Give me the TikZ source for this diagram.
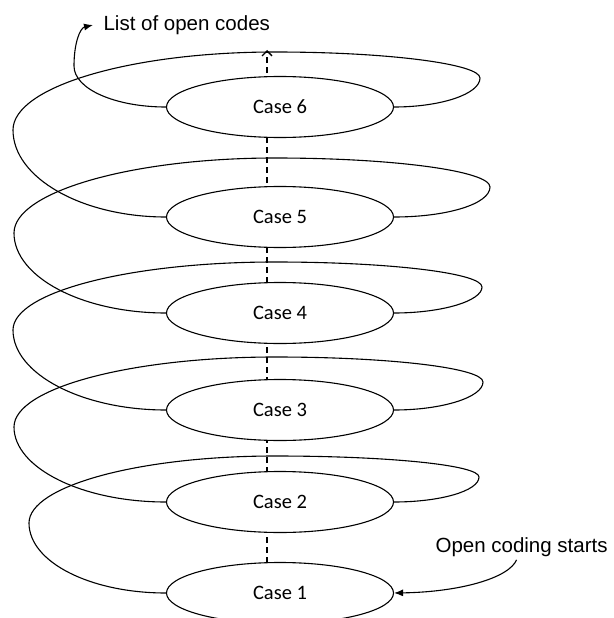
\documentclass[tikz,border=0pt]{standalone}
\usepackage{fontspec}
\setmainfont{Liberation Sans}
\newfontfamily\casefont{Carlito}
\usetikzlibrary{shapes.geometric,arrows.meta,backgrounds}
\begin{document}
\begin{tikzpicture}[x=1pt,y=-1pt,line width=1.1pt,
  casenode/.style={ellipse,draw=black,fill=white,minimum width=227pt,minimum height=61pt,inner sep=0pt,
    font=\casefont\fontsize{20.5}{24}\selectfont},
  spiral/.style={draw=black,line width=1.1pt},
  labeltext/.style={font=\fontsize{20.5}{24}\selectfont,inner sep=0pt},
  dashlink/.style={draw=black,line width=1.4pt,dash pattern=on 6pt off 4pt},
  tipfill/.style={-{Latex[length=9pt,width=7pt]}}]
\useasboundingbox (0,0) rectangle (613,618);

% case ellipses
\node[casenode] (c1) at (280,593) {Case 1};
\node[casenode] (c2) at (280,502) {Case 2};
\node[casenode] (c3) at (280,410) {Case 3};
\node[casenode] (c4) at (280,313) {Case 4};
\node[casenode] (c5) at (280,217) {Case 5};
\node[casenode] (c6) at (280,107) {Case 6};

% labels
\node[labeltext,anchor=base west] (ocs) at (435,552) {Open coding starts};
\node[labeltext,anchor=west,inner xsep=10pt] (lst) at (93,25) {List of open codes};

% background: white sheet and dashed axis
\coordinate (dbot) at (267,593);
\coordinate (dtop) at (267,50);
\begin{scope}[on background layer]
  \fill[white] (0,0) rectangle (613,618);
  \draw[dashlink,-{Straight Barb[length=5pt,width=10pt]}] (dbot) -- (dtop);
\end{scope}

% spiral loops
\draw[spiral] (c1.west) .. controls (90,593) and (29,562) .. (29,523)
  .. controls (29,486) and (139,456) .. (275,456)
  .. controls (388,456) and (479,465) .. (479,477)
  .. controls (479,491) and (440,502) .. (c2.east);
\draw[spiral] (c2.west) .. controls (82,502) and (14,468) .. (14,427)
  .. controls (14,388) and (131,357) .. (275,357)
  .. controls (390,357) and (483,368) .. (483,382)
  .. controls (483,397) and (443,410) .. (c3.east);
\draw[spiral] (c3.west) .. controls (82,410) and (13,374) .. (13,330)
  .. controls (13,292) and (130,262) .. (275,262)
  .. controls (389,262) and (482,273) .. (482,287)
  .. controls (482,301) and (442,313) .. (c4.east);
\draw[spiral] (c4.west) .. controls (82,313) and (14,277) .. (14,233)
  .. controls (14,192) and (131,158) .. (275,158)
  .. controls (394,158) and (490,171) .. (490,187)
  .. controls (490,204) and (447,217) .. (c5.east);
\draw[spiral] (c5.west) .. controls (82,217) and (13,178) .. (13,130)
  .. controls (13,87) and (130,52) .. (275,52)
  .. controls (388,52) and (480,64) .. (480,78)
  .. controls (480,94) and (441,107) .. (c6.east);

% exit arrow to list of open codes
\draw[spiral,tipfill] (c6.west) .. controls (115,107) and (74,89) .. (74,66)
  .. controls (74,43) and (80,28) .. (lst.west);

% entry arrow from "Open coding starts"
\draw[spiral,tipfill] ([xshift=-5pt,yshift=-3pt]ocs.south) .. controls (509,578) and (460,592) .. (c1.east);
\end{tikzpicture}
\end{document}
